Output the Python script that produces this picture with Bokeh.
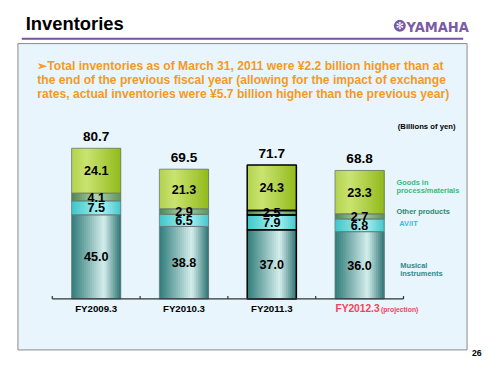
from bokeh.plotting import figure
from bokeh.models import Range1d, ColumnDataSource
from bokeh.core.properties import value
from bokeh.embed import file_html
from bokeh.resources import INLINE

# ---------------- data ----------------
categories = ["FY2009.3", "FY2010.3", "FY2011.3", "FY2012.3"]
musical = [45.0, 38.8, 37.0, 36.0]
avit = [7.5, 6.5, 7.9, 6.8]
other = [4.1, 2.9, 2.5, 2.7]
goods = [24.1, 21.3, 24.3, 23.3]
totals = [80.7, 69.5, 71.7, 68.8]
series_names = ["Musical\ninstruments", "AV/IT", "Other products", "Goods in\nprocess/materials"]
title_text = "Inventories"
body_lines = [
    "\u27a2Total inventories as of March 31, 2011 were \u00a52.2 billion higher than at",
    "the end of the previous fiscal year (allowing for the impact of exchange",
    "rates, actual inventories were \u00a55.7 billion higher than the previous year)",
]
unit_text = "(Billions of yen)"
projection_note = "(projection)"
page_number = "26"

# ---------------- layout helpers (reference pixels -> data) ----------------
W, H = 484, 359
REF_W, REF_H = 500, 375
PX_PER_CAT = 90.7
PX_PER_UNIT = 1.95
AX_X0 = 53.5      # left end of category axis (reference px)
BASE_Y = 311.7    # baseline (reference px)
S = W / REF_W     # font scale

def X(px):
    return (px - AX_X0) / PX_PER_CAT

def Y(py):
    return (BASE_Y - py) / PX_PER_UNIT

def fs(v):
    return value("%.1fpx" % (v * S))

p = figure(width=W, height=H, output_backend="svg", toolbar_location=None,
           x_range=Range1d(X(0), X(REF_W)), y_range=Range1d(Y(REF_H), Y(0)),
           min_border=0, outline_line_color=None, background_fill_color="white",
           border_fill_color="white")
p.axis.visible = False
p.grid.visible = False

FONT = "Liberation Sans"

# title + purple rule + logo
p.text(x=[X(26)], y=[Y(24.5)], text=[title_text], text_font=value(FONT),
       text_font_size=fs(19), text_font_style="bold", text_color="black",
       text_baseline="middle", text_align="left")
p.line(x=[X(22), X(478)], y=[Y(40), Y(40)], line_color="#7b52a0", line_width=2)
p.scatter(x=[X(412.5)], y=[Y(26.5)], size=12, marker="circle", fill_color="#7b5aa6",
          line_color=None)
p.text(x=[X(412.5)], y=[Y(26.5)], text=["\u273b"], text_font=value("DejaVu Sans"),
       text_font_size=fs(10), text_color="white", text_align="center",
       text_baseline="middle")
p.text(x=[X(419.5)], y=[Y(27.5)], text=["YAMAHA"],
       text_font=value("DejaVu Sans Condensed, Liberation Sans"),
       text_font_size=fs(15), text_font_style="bold", text_color="#7b5aa6",
       text_align="left", text_baseline="middle")

# light blue panel
p.quad(left=[X(18)], right=[X(482)], bottom=[Y(365)], top=[Y(45)],
       fill_color="#e8f5fd", line_color="#8a8a8a", line_width=1)

# body text
for i, line in enumerate(body_lines):
    p.text(x=[X(38)], y=[Y(68 + 15 * i)], text=[line], text_font=value(FONT),
           text_font_size=fs(12.5), text_font_style="bold", text_color="#f59a1e",
           text_align="left", text_baseline="middle")

p.text(x=[X(470)], y=[Y(132)], text=[unit_text], text_font=value(FONT),
       text_font_size=fs(8), text_font_style="bold", text_color="black",
       text_align="right", text_baseline="middle")

# ---------------- stacked bars with gradient strips ----------------
BAR_W = 0.56
NSTRIP = 24

def hex2rgb(h):
    h = h.lstrip("#")
    return tuple(int(h[i:i + 2], 16) for i in (0, 2, 4))

def rgb2hex(c):
    return "#%02x%02x%02x" % tuple(int(round(v)) for v in c)

def grad(left, peak, right, tpeak, t):
    a, b, c = hex2rgb(left), hex2rgb(peak), hex2rgb(right)
    if t <= tpeak:
        f = t / tpeak
        return rgb2hex([a[k] + (b[k] - a[k]) * f for k in range(3)])
    f = (t - tpeak) / (1 - tpeak)
    return rgb2hex([b[k] + (c[k] - b[k]) * f for k in range(3)])

layers = [
    (musical, ("#2f7c7a", "#d4eeec", "#2c7472", 0.66)),
    (avit, ("#3cc6ca", "#aef2f2", "#44c8cc", 0.6)),
    (other, ("#4b884c", "#b4d4ac", "#5a9658", 0.5)),
    (goods, ("#b2d24e", "#cae472", "#92ba1a", 0.3)),
]

centers = [i + 0.5 for i in range(len(categories))]
sl, sr, sb, st, sc = [], [], [], [], []
ob, ot, ox, ocol, ow = [], [], [], [], []
bottoms = [0.0] * len(categories)
step = BAR_W / NSTRIP
for vals, (cl, cp, cr, tp) in layers:
    for i, v in enumerate(vals):
        b0 = bottoms[i]
        left0 = centers[i] - BAR_W / 2
        for s in range(NSTRIP):
            t = (s + 0.5) / NSTRIP
            sl.append(left0 + step * s)
            # extend each strip to the bar's right edge so no seams show
            sr.append(centers[i] + BAR_W / 2)
            sb.append(b0)
            st.append(b0 + v)
            sc.append(grad(cl, cp, cr, tp, t))
        ox.append(centers[i])
        ob.append(b0)
        ot.append(b0 + v)
        ocol.append("black" if i == 2 else "#6a7a7a")
        ow.append(1.5 if i == 2 else 0.8)
        bottoms[i] = b0 + v

p.quad(left="l", right="r", bottom="b", top="t", fill_color="c", line_color=None,
       source=ColumnDataSource(dict(l=sl, r=sr, b=sb, t=st, c=sc)))
p.vbar(x="x", bottom="b", top="t", width=BAR_W, fill_color=None, line_color="c",
       line_width="w", source=ColumnDataSource(dict(x=ox, b=ob, t=ot, c=ocol, w=ow)))

# segment labels
lx, ly, lt = [], [], []
bottoms = [0.0] * len(categories)
for vals, _ in layers:
    for i, v in enumerate(vals):
        lx.append(centers[i])
        ly.append(bottoms[i] + v / 2)
        lt.append("%.1f" % v)
        bottoms[i] += v
p.text(x=lx, y=ly, text=lt, text_font=value(FONT), text_font_size=fs(13),
       text_font_style="bold", text_color="black", text_align="center",
       text_baseline="middle")

# totals
p.text(x=centers, y=totals, text=["%.1f" % t for t in totals], text_font=value(FONT),
       text_font_size=fs(14), text_font_style="bold", text_color="black",
       text_align="center", text_baseline="middle", y_offset=-12 * S)

# axis line + ticks
n = len(categories)
p.line(x=[0, n], y=[0, 0], line_color="#333333", line_width=1.2)
p.segment(x0=list(range(n + 1)), x1=list(range(n + 1)), y0=[0] * (n + 1),
          y1=[3 / PX_PER_UNIT] * (n + 1), line_color="#333333", line_width=1.2)

# category labels
p.text(x=centers[:3], y=[Y(322)] * 3, text=categories[:3], text_font=value(FONT),
       text_font_size=fs(10), text_font_style="bold", text_color="black",
       text_align="center", text_baseline="middle")
p.text(x=[X(368.8)], y=[Y(322)], text=[categories[3]], text_font=value(FONT),
       text_font_size=fs(10.5), text_font_style="bold", text_color="#f2435a",
       text_align="center", text_baseline="middle")
p.text(x=[X(393)], y=[Y(323)], text=[projection_note], text_font=value(FONT),
       text_font_size=fs(7), text_font_style="bold", text_color="#f2435a",
       text_align="left", text_baseline="middle")

# legend-like labels at right
leg = [
    (series_names[3], 190, "#3cb878", 409),
    (series_names[2], 220, "#2e8a6c", 409),
    (series_names[1], 233, "#2cc4de", 412),
    (series_names[0], 277, "#2a8c8c", 413),
]
for txt, py, col, px in leg:
    for k, part in enumerate(txt.split("\n")):
        p.text(x=[X(px)], y=[Y(py + 8.5 * k)], text=[part], text_font=value(FONT),
               text_font_size=fs(7.6), text_font_style="bold", text_color=col,
               text_align="left", text_baseline="middle")

p.text(x=[X(497)], y=[Y(368)], text=[page_number], text_font=value(FONT),
       text_font_size=fs(9), text_font_style="bold", text_color="black",
       text_align="right", text_baseline="middle")

open("out.html", "w").write(file_html(p, INLINE))
